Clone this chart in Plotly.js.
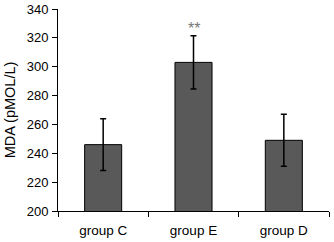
<!DOCTYPE html>
<html><head><meta charset="utf-8">
<script src="https://cdn.plot.ly/plotly-3.0.1.min.js"></script>
<style>html,body{margin:0;padding:0;background:#fff}#c{width:334px;height:242px}</style>
</head><body><div id="c"></div>
<script>
var categories = ["group C", "group E", "group D"];
var values = [246, 303, 249];
var errors = [18, 18.5, 18];
var yTicks = [200, 220, 240, 260, 280, 300, 320, 340];
var sigLabel = "**";

var trace = {
  type: "bar", x: categories, y: values, width: 0.41,
  marker: {color: "#595959", line: {color: "#000", width: 1}},
  error_y: {type: "data", array: errors, visible: true, color: "#000", thickness: 1.5, width: 3}
};
var layout = {
  width: 334, height: 242,
  margin: {l: 58, r: 5, t: 9, b: 31},
  paper_bgcolor: "#fff", plot_bgcolor: "#fff",
  font: {family: "Liberation Sans, Arial, sans-serif", size: 13, color: "#000"},
  showlegend: false,
  xaxis: {showline: true, linecolor: "#000", linewidth: 1, ticks: "outside", tickson: "boundaries",
    ticklen: 5, tickcolor: "#000", showgrid: false, zeroline: false, tickfont: {size: 13.5},
    ticklabelstandoff: 7},
  yaxis: {range: [200, 340], tickvals: yTicks, showline: true, linecolor: "#000", linewidth: 1,
    ticks: "outside", ticklen: 5, tickcolor: "#000", showgrid: false, zeroline: false,
    tickfont: {size: 13}, ticklabelstandoff: 1, title: {text: "MDA (pMOL/L)", font: {size: 14.5}, standoff: 7}},
  annotations: [{x: categories[1], y: values[1] + errors[1] + 5, text: sigLabel, showarrow: false,
    font: {size: 16, color: "#777"}, yanchor: "middle"}]
};
Plotly.newPlot("c", [trace], layout, {staticPlot: true, displayModeBar: false});
</script></body></html>
